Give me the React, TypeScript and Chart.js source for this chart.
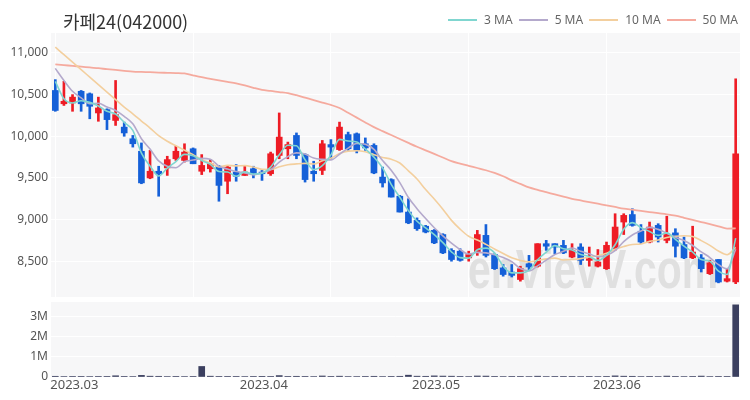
import React, { useEffect, useRef } from 'react';
import { Chart, registerables } from 'chart.js';

Chart.register(...registerables);

// ---------- data ----------
const dates = [
  '2023-03-02','2023-03-03','2023-03-06','2023-03-07','2023-03-08','2023-03-09','2023-03-10','2023-03-13','2023-03-14','2023-03-15',
  '2023-03-16','2023-03-17','2023-03-20','2023-03-21','2023-03-22','2023-03-23','2023-03-24','2023-03-27','2023-03-28','2023-03-29',
  '2023-03-30','2023-03-31','2023-04-03','2023-04-04','2023-04-05','2023-04-06','2023-04-07','2023-04-10','2023-04-11','2023-04-12',
  '2023-04-13','2023-04-14','2023-04-17','2023-04-18','2023-04-19','2023-04-20','2023-04-21','2023-04-24','2023-04-25','2023-04-26',
  '2023-04-27','2023-04-28','2023-05-01','2023-05-02','2023-05-03','2023-05-04','2023-05-08','2023-05-09','2023-05-10','2023-05-11',
  '2023-05-12','2023-05-15','2023-05-16','2023-05-17','2023-05-18','2023-05-19','2023-05-22','2023-05-23','2023-05-24','2023-05-25',
  '2023-05-26','2023-05-30','2023-05-31','2023-06-01','2023-06-02','2023-06-05','2023-06-07','2023-06-08','2023-06-09','2023-06-12',
  '2023-06-13','2023-06-14','2023-06-15','2023-06-16','2023-06-19','2023-06-20','2023-06-21','2023-06-22','2023-06-23','2023-06-26',
];

const opens = [
  10550, 10390, 10400, 10540, 10510, 10280, 10320, 10190, 10110, 9970,
  9820, 9500, 9580, 9620, 9730, 9710, 9850, 9580, 9610, 9640,
  9460, 9570, 9530, 9610, 9570, 9550, 9770, 9850, 10010, 9780,
  9580, 9590, 9900, 9840, 10020, 10030, 9910, 9890, 9510, 9480,
  9280, 9090, 8990, 8920, 8870, 8820, 8630, 8620, 8540, 8610,
  8810, 8580, 8420, 8370, 8280, 8470, 8440, 8710, 8710, 8690,
  8550, 8670, 8510, 8440, 8410, 8650, 8970, 9060, 8860, 8730,
  8930, 8750, 8840, 8700, 8540, 8540, 8350, 8520, 8260, 8250,
];
const highs = [
  10680, 10660, 10500, 10550, 10520, 10470, 10330, 10670, 10170, 10010,
  9920, 9830, 9640, 9760, 9880, 9910, 9860, 9780, 9720, 9650,
  9650, 9660, 9650, 9640, 9600, 9810, 10280, 9930, 10040, 9790,
  9700, 9950, 9960, 10170, 10050, 10040, 9980, 9910, 9630, 9490,
  9290, 9250, 9020, 8930, 8880, 8830, 8650, 8650, 8620, 8870,
  8940, 8590, 8460, 8460, 8440, 8570, 8710, 8750, 8710, 8750,
  8710, 8710, 8670, 8640, 8730, 9070, 9070, 9130, 8940, 8970,
  8950, 9040, 8890, 8790, 8920, 8580, 8510, 8520, 8410, 10690,
];
const lows = [
  10300, 10370, 10300, 10300, 10210, 10180, 10080, 10130, 10000, 9870,
  9430, 9490, 9280, 9530, 9710, 9690, 9670, 9540, 9570, 9220,
  9310, 9460, 9530, 9500, 9470, 9530, 9730, 9730, 9730, 9450,
  9460, 9540, 9730, 9830, 9830, 9800, 9830, 9550, 9390, 9270,
  9090, 8950, 8870, 8840, 8710, 8590, 8500, 8500, 8500, 8570,
  8550, 8400, 8320, 8310, 8260, 8390, 8430, 8630, 8590, 8590,
  8540, 8460, 8440, 8430, 8400, 8630, 8820, 8920, 8710, 8720,
  8730, 8720, 8550, 8530, 8530, 8370, 8340, 8240, 8250, 8230,
];
const closes = [
  10310, 10420, 10470, 10390, 10360, 10340, 10200, 10260, 10040, 9910,
  9440, 9580, 9550, 9720, 9820, 9810, 9670, 9650, 9670, 9410,
  9630, 9520, 9570, 9550, 9550, 9790, 9990, 9900, 9770, 9480,
  9550, 9910, 9870, 10110, 9850, 9830, 9860, 9560, 9440, 9270,
  9090, 8960, 8890, 8850, 8720, 8600, 8520, 8510, 8580, 8820,
  8570, 8410, 8340, 8330, 8410, 8430, 8710, 8680, 8670, 8600,
  8630, 8510, 8530, 8490, 8690, 8910, 9050, 8930, 8730, 8910,
  8790, 8820, 8680, 8540, 8610, 8410, 8480, 8250, 8290, 9790,
];
const volumes = [
  35000, 25000, 20000, 30000, 25000, 20000, 30000, 60000, 30000, 25000,
  80000, 40000, 35000, 25000, 30000, 25000, 20000, 520000, 40000, 30000,
  30000, 20000, 25000, 20000, 15000, 30000, 70000, 30000, 35000, 30000,
  25000, 50000, 30000, 40000, 25000, 25000, 20000, 35000, 25000, 30000,
  35000, 90000, 40000, 35000, 55000, 45000, 40000, 30000, 25000, 50000,
  45000, 30000, 25000, 20000, 20000, 25000, 40000, 25000, 20000, 20000,
  20000, 25000, 20000, 25000, 30000, 55000, 40000, 35000, 25000, 30000,
  25000, 45000, 30000, 25000, 30000, 45000, 25000, 30000, 20000, 3560000,
];
const ma3 = [
  10660, 10450, 10400, 10427, 10407, 10363, 10300, 10267, 10167, 10070,
  9797, 9643, 9523, 9617, 9697, 9783, 9767, 9710, 9663, 9577,
  9570, 9520, 9573, 9547, 9557, 9630, 9777, 9893, 9887, 9717,
  9600, 9647, 9777, 9963, 9943, 9930, 9847, 9750, 9620, 9423,
  9267, 9107, 8980, 8900, 8820, 8723, 8613, 8543, 8537, 8637,
  8657, 8600, 8440, 8360, 8360, 8390, 8517, 8607, 8687, 8650,
  8633, 8580, 8557, 8510, 8570, 8697, 8883, 8963, 8903, 8857,
  8810, 8840, 8763, 8680, 8610, 8520, 8500, 8380, 8340, 8777,
];
const ma5 = [
  10815, 10670, 10540, 10460, 10390, 10396, 10352, 10310, 10240, 10150,
  9970, 9846, 9704, 9640, 9622, 9696, 9714, 9734, 9724, 9642,
  9606, 9576, 9560, 9536, 9564, 9596, 9690, 9756, 9800, 9786,
  9738, 9722, 9716, 9784, 9858, 9914, 9904, 9842, 9708, 9592,
  9444, 9264, 9130, 9012, 8902, 8804, 8716, 8640, 8586, 8606,
  8600, 8578, 8544, 8494, 8412, 8384, 8444, 8512, 8580, 8618,
  8658, 8618, 8588, 8552, 8570, 8626, 8734, 8814, 8862, 8906,
  8882, 8836, 8786, 8748, 8688, 8612, 8544, 8458, 8408, 8644,
];
const ma10 = [
  11070, 10980, 10890, 10800, 10710, 10620, 10530, 10440, 10350, 10270,
  10183, 10099, 10007, 9940, 9886, 9833, 9780, 9719, 9682, 9632,
  9651, 9645, 9647, 9630, 9603, 9601, 9633, 9658, 9668, 9675,
  9667, 9706, 9736, 9792, 9822, 9826, 9813, 9779, 9746, 9725,
  9679, 9584, 9486, 9360, 9247, 9124, 8990, 8885, 8799, 8754,
  8702, 8647, 8592, 8540, 8509, 8492, 8511, 8528, 8537, 8515,
  8521, 8531, 8550, 8566, 8594, 8642, 8676, 8701, 8707, 8738,
  8754, 8785, 8800, 8805, 8797, 8747, 8690, 8622, 8578, 8666,
];
const ma50 = [
  10864, 10855, 10845, 10836, 10826, 10817, 10806, 10796, 10786, 10776,
  10772, 10769, 10765, 10762, 10759, 10754, 10731, 10709, 10690, 10671,
  10653, 10635, 10611, 10582, 10557, 10545, 10531, 10518, 10493, 10464,
  10435, 10405, 10376, 10339, 10282, 10224, 10166, 10110, 10062, 10015,
  9967, 9920, 9874, 9831, 9788, 9745, 9702, 9672, 9645, 9619,
  9592, 9560, 9520, 9470, 9428, 9386, 9356, 9329, 9302, 9275,
  9249, 9229, 9209, 9190, 9170, 9151, 9132, 9118, 9104, 9090,
  9076, 9063, 9046, 9021, 8995, 8970, 8945, 8919, 8892, 8893,
];
const priceTicks = [8500, 9000, 9500, 10000, 10500, 11000];
const volumeTicks = [0, 1000000, 2000000, 3000000];
const maLabels = ['3 MA', '5 MA', '10 MA', '50 MA'];

// ---------- style ----------
const FONT = "'Noto Sans', 'Noto Sans CJK KR', sans-serif";
const UP = '#ee1c25';
const DOWN = '#1560d8';
const MA_COLORS = ['#80d6d0', '#b4a9cc', '#f3cf9e', '#f5aa9e'];
const PLOT_BG = '#f7f7f8';
const TICK_COLOR = '#555555';

const isMonthStart = (i: number) => i === 0 || dates[i].slice(0, 7) !== dates[i - 1].slice(0, 7);
const monthLabel = (i: number) => (isMonthStart(i) ? dates[i].slice(0, 7).replace('-', '.') : '');
const candleColors = opens.map((o, i) => (closes[i] >= o ? UP : DOWN));
const maData = [ma3, ma5, ma10, ma50];

const plotBg = {
  id: 'plotBg',
  beforeDraw(chart: any) {
    const { ctx, chartArea: a } = chart;
    ctx.save();
    ctx.fillStyle = PLOT_BG;
    ctx.fillRect(a.left, a.top, a.right - a.left, a.bottom - a.top);
    ctx.restore();
  },
};

const watermark = {
  id: 'watermark',
  beforeDatasetsDraw(chart: any) {
    const { ctx, chartArea: a } = chart;
    ctx.save();
    ctx.font = "bold 56px 'Liberation Sans', sans-serif";
    ctx.fillStyle = '#e0e0e0';
    ctx.textAlign = 'right';
    ctx.textBaseline = 'alphabetic';
    ctx.translate(a.right - 22, a.bottom - 9);
    ctx.scale(0.73, 1);
    ctx.fillText('enVievV.com', 0, 0);
    ctx.restore();
  },
};

const vGridColor = (ctx: any) => (ctx.index % 16 === 0 ? '#ffffff' : 'rgba(255,255,255,0)');

function priceConfig(): any {
  const lineSets = maLabels.map((label, k) => ({
    type: 'line',
    label,
    data: maData[k],
    borderColor: MA_COLORS[k],
    backgroundColor: MA_COLORS[k],
    borderWidth: k === 3 ? 1.8 : 1.6,
    pointRadius: 0,
    cubicInterpolationMode: 'monotone',
    fill: false,
  }));
  return {
    type: 'bar',
    data: {
      labels: dates,
      datasets: [
        ...lineSets,
        {
          type: 'bar',
          label: 'body',
          data: opens.map((o, i) => [o, closes[i]]),
          backgroundColor: candleColors,
          barThickness: 6,
          minBarLength: 1,
          grouped: false,
        },
        {
          type: 'bar',
          label: 'wick',
          data: lows.map((l, i) => [l, highs[i]]),
          backgroundColor: candleColors,
          barThickness: 2,
          grouped: false,
        },
      ],
    },
    options: {
      responsive: true,
      maintainAspectRatio: false,
      animation: false,
      events: [],
      layout: { padding: { left: 0, right: 10, top: 33, bottom: 3 } },
      plugins: { legend: { display: false }, tooltip: { enabled: false } },
      scales: {
        x: {
          type: 'category',
          offset: true,
          grid: { offset: false, drawTicks: false, color: vGridColor, lineWidth: 1 },
          border: { display: false },
          ticks: { display: false, autoSkip: false },
          afterFit(s: any) {
            s.height = 0;
            s.paddingLeft = 0;
            s.paddingRight = 0;
          },
        },
        y: {
          min: 8070,
          max: 11240,
          afterBuildTicks(s: any) {
            s.ticks = priceTicks.map((value) => ({ value }));
          },
          afterFit(s: any) {
            s.width = 51;
            s.paddingTop = 0;
            s.paddingBottom = 0;
          },
          grid: { color: '#ffffff', lineWidth: 1, drawTicks: false },
          border: { display: false },
          ticks: {
            padding: 3,
            color: TICK_COLOR,
            font: { size: 12, family: FONT },
            callback: (v: any) => Number(v).toLocaleString('en-US'),
          },
        },
      },
    },
    plugins: [plotBg, watermark],
  };
}

function volumeConfig(): any {
  return {
    type: 'bar',
    data: {
      labels: dates,
      datasets: [
        {
          label: 'Volume',
          data: volumes,
          backgroundColor: '#3b3f5f',
          barThickness: 6,
        },
      ],
    },
    options: {
      responsive: true,
      maintainAspectRatio: false,
      animation: false,
      events: [],
      layout: { padding: { left: 0, right: 10, top: 2, bottom: 0 } },
      plugins: { legend: { display: false }, tooltip: { enabled: false } },
      scales: {
        x: {
          type: 'category',
          offset: true,
          grid: { display: false, drawTicks: false, tickLength: 0 },
          border: { display: false },
          ticks: {
            autoSkip: false,
            maxRotation: 0,
            minRotation: 0,
            align: 'start',
            labelOffset: -5,
            padding: 0,
            color: TICK_COLOR,
            font: { size: 13, family: FONT },
            callback: (_v: any, i: number) => monthLabel(i),
          },
          afterFit(s: any) {
            s.height = 23;
            s.paddingLeft = 0;
            s.paddingRight = 0;
          },
        },
        y: {
          min: 0,
          max: 3700000,
          afterBuildTicks(s: any) {
            s.ticks = volumeTicks.map((value) => ({ value }));
          },
          afterFit(s: any) {
            s.width = 51;
            s.paddingTop = 0;
            s.paddingBottom = 0;
          },
          grid: { color: '#ffffff', lineWidth: 1, drawTicks: false },
          border: { display: false },
          ticks: {
            padding: 3,
            color: TICK_COLOR,
            font: { size: 12, family: FONT },
            callback: (v: any) => (Number(v) === 0 ? '0' : Number(v) / 1000000 + 'M'),
          },
        },
      },
    },
    plugins: [plotBg],
  };
}

export default function App() {
  const priceRef = useRef<HTMLCanvasElement>(null);
  const volRef = useRef<HTMLCanvasElement>(null);

  useEffect(() => {
    const p = new Chart(priceRef.current as HTMLCanvasElement, priceConfig());
    const v = new Chart(volRef.current as HTMLCanvasElement, volumeConfig());
    return () => {
      p.destroy();
      v.destroy();
    };
  }, []);

  return (
    <div
      style={{
        position: 'fixed',
        left: 0,
        top: 0,
        width: 750,
        height: 400,
        background: '#ffffff',
        fontFamily: FONT,
        overflow: 'hidden',
      }}
    >
      <div style={{ position: 'absolute', left: 0, top: 0, width: 750, height: 300 }}>
        <canvas ref={priceRef} />
      </div>
      <div style={{ position: 'absolute', left: 0, top: 300, width: 750, height: 100 }}>
        <canvas ref={volRef} />
      </div>
      <div
        style={{
          position: 'absolute',
          left: 63,
          top: 12,
          fontSize: 18,
          lineHeight: '18px',
          color: '#333333',
          fontFamily: "'Noto Sans CJK KR', 'Noto Sans', sans-serif",
          whiteSpace: 'nowrap',
        }}
      >
        카페24(042000)
      </div>
      <div
        style={{
          position: 'absolute',
          right: 12,
          top: 13,
          display: 'flex',
          alignItems: 'center',
          fontSize: 12,
          lineHeight: '14px',
          color: '#666666',
          whiteSpace: 'nowrap',
        }}
      >
        {maLabels.map((label, k) => (
          <div key={label} style={{ display: 'flex', alignItems: 'center', marginLeft: 6 }}>
            <span
              style={{
                display: 'inline-block',
                width: 29,
                height: 2,
                background: MA_COLORS[k],
                marginRight: 7,
              }}
            />
            <span>{label}</span>
          </div>
        ))}
      </div>
    </div>
  );
}
